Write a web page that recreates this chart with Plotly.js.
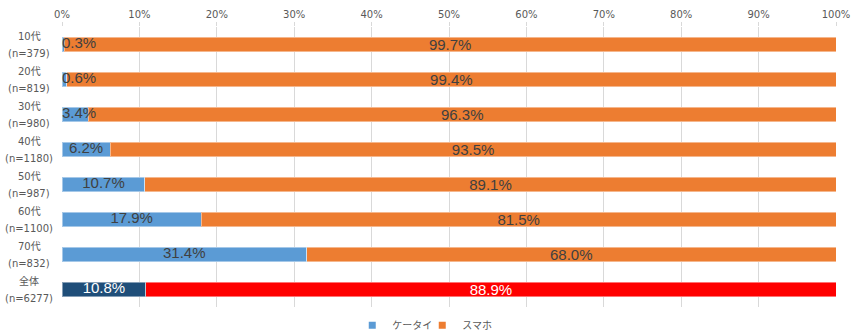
<!DOCTYPE html>
<html><head><meta charset="utf-8">
<script src="https://cdn.plot.ly/plotly-3.0.1.min.js"></script>
<style>html,body{margin:0;padding:0;background:#fff}</style>
</head><body>
<div id="chart" style="width:854px;height:333px"></div>
<script>
var categories = ["10代","20代","30代","40代","50代","60代","70代","全体"];
var sampleSizes = ["n=379","n=819","n=980","n=1180","n=987","n=1100","n=832","n=6277"];
var keitai = [0.3, 0.6, 3.4, 6.2, 10.7, 17.9, 31.4, 10.8];
var sumaho = [99.7, 99.4, 96.3, 93.5, 89.1, 81.5, 68.0, 88.9];
var seriesNames = ["ケータイ", "スマホ"];
var seriesColors = ["#5B9BD5", "#ED7D31"];
var totalColors = ["#1F4E79", "#FF0000"];

var last = categories.length-1;
var blueCols = categories.map(function(c,i){return i===last ? totalColors[0] : seriesColors[0];});
var orangeCols = categories.map(function(c,i){return i===last ? totalColors[1] : seriesColors[1];});
var textCols = categories.map(function(c,i){return i===last ? "#FFFFFF" : "#404040";});
var fmt = function(v){return v.toFixed(1)+"%";};

// label x for first series (kept inside plot like Excel)
var blueNorm = keitai.map(function(v,i){return v/(v+sumaho[i])*100;});
var blueLabelX = blueNorm.map(function(n){return Math.max(n/2, 2.2);});

var labelFont = {family:"Liberation Sans, Arial, sans-serif", size:15};

var traces = [
  {type:"bar", orientation:"h", name:seriesNames[0], y:categories, x:keitai, showlegend:false,
   marker:{color:blueCols, line:{color:"rgba(255,255,255,0.45)", width:1}},
   hoverinfo:"none"},
  {type:"bar", orientation:"h", name:seriesNames[1], y:categories, x:sumaho, showlegend:false,
   marker:{color:orangeCols, line:{color:"rgba(255,255,255,0.45)", width:1}},
   text:sumaho.map(fmt), textposition:"inside", insidetextanchor:"middle",
   textangle:0, constraintext:"none",
   textfont:{family:labelFont.family, size:labelFont.size, color:textCols},
   hoverinfo:"none"},
  {type:"scatter", mode:"text", y:categories, x:blueLabelX, text:keitai.map(fmt),
   textposition:"middle center", showlegend:false, cliponaxis:false,
   textfont:{family:labelFont.family, size:labelFont.size, color:textCols},
   hoverinfo:"none"}
];
// legend entries (small square swatches)
seriesNames.forEach(function(n,k){
  traces.push({type:"scatter", mode:"markers", name:n, x:[null], y:[null],
    marker:{symbol:"square", size:7, color:seriesColors[k]}, hoverinfo:"none"});
});

var annotations = [];
categories.forEach(function(c,i){
  var f = {family:"DejaVu Sans, Noto Sans CJK JP, sans-serif", size:10, color:"#595959"};
  annotations.push({xref:"paper", yref:"y", x:-0.0426, y:c, xanchor:"center", yanchor:"middle",
    yshift:8.5, text:c, showarrow:false, font:f});
  annotations.push({xref:"paper", yref:"y", x:-0.0426, y:c, xanchor:"center", yanchor:"middle",
    yshift:-8.5, text:"("+sampleSizes[i]+")", showarrow:false, font:f});
});

var layout = {
  width:854, height:333,
  margin:{l:62, r:18, t:27, b:26, autoexpand:false},
  barmode:"stack", barnorm:"percent", bargap:0.58,
  paper_bgcolor:"#fff", plot_bgcolor:"#fff",
  xaxis:{side:"top", range:[0,100], dtick:10, ticksuffix:"%", showgrid:true,
    gridcolor:"#D9D9D9", gridwidth:1, zeroline:false, showline:false,
    ticks:"outside", ticklen:4, tickcolor:"#D9D9D9",
    tickfont:{family:"DejaVu Sans, sans-serif", size:10, color:"#595959"}, fixedrange:true},
  yaxis:{type:"category", autorange:"reversed", showticklabels:false, showgrid:false,
    zeroline:false, showline:false, ticks:"", fixedrange:true},
  showlegend:true,
  legend:{orientation:"h", x:0.375, xanchor:"left", y:-0.065, yanchor:"middle",
    font:{family:"Noto Sans CJK JP, DejaVu Sans, sans-serif", size:10, color:"#595959"},
    itemwidth:30, entrywidth:25, traceorder:"normal"},
  annotations:annotations
};

Plotly.newPlot("chart", traces, layout, {displayModeBar:false, staticPlot:true});
</script>
</body></html>
